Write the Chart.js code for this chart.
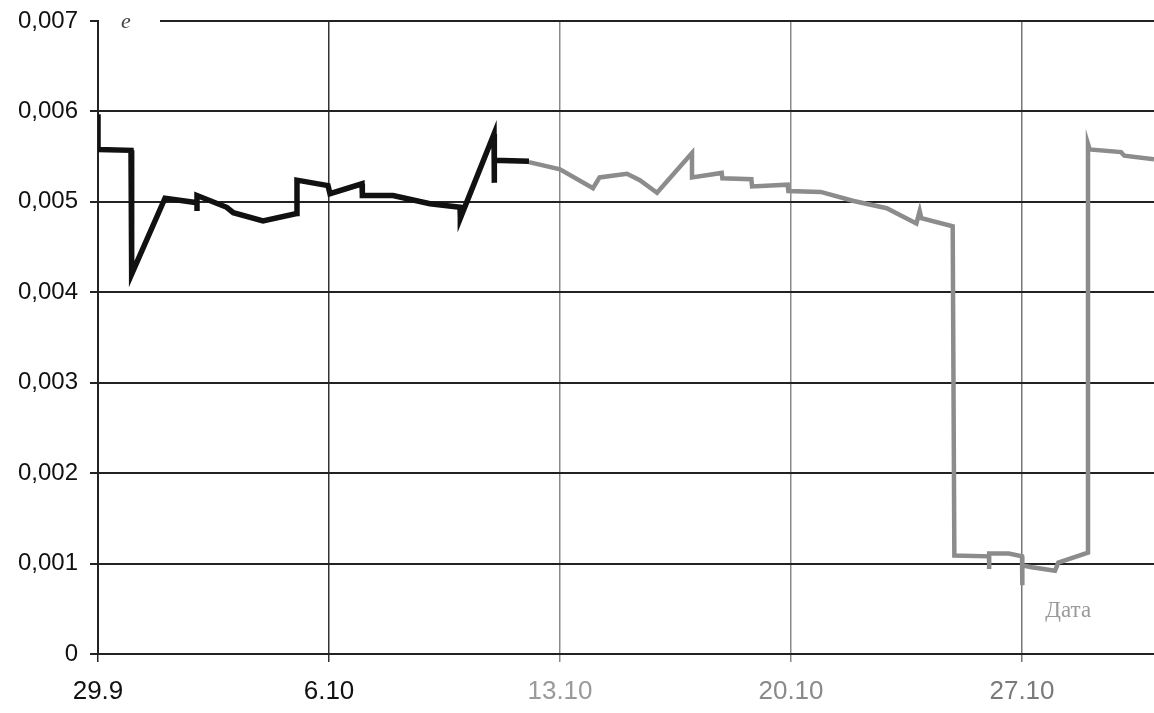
<!DOCTYPE html>
<html>
<head>
<meta charset="utf-8">
<script src="https://cdn.jsdelivr.net/npm/chart.js@4.4.1/dist/chart.umd.min.js"></script>
<style>
  html, body { margin: 0; padding: 0; background: #fff; }
  #wrap { width: 1154px; height: 713px; }
</style>
</head>
<body>
<div id="wrap"><canvas id="chart" width="1154" height="713"></canvas></div>
<script>
// days counted from 29.9
const xTickDays = [0, 7, 14, 21, 28];
const xTickLabels = ['29.9', '6.10', '13.10', '20.10', '27.10'];
const yTickValues = [0, 0.001, 0.002, 0.003, 0.004, 0.005, 0.006, 0.007];

// first part (dark line)
const blackDays = [0, 0, 1.0, 1.02, 2.03, 3.0, 3.0, 3.0, 3.9, 4.1, 5.0, 6.02, 6.03, 6.97, 7.03, 8.0, 8.01, 8.94, 10.06, 10.97, 10.98, 12.0, 12.0, 12.02, 13.06];
const blackValues = [0.00597, 0.00558, 0.00557, 0.00420, 0.00504, 0.00499, 0.00490, 0.00507, 0.00494, 0.00488, 0.00479, 0.00487, 0.00524, 0.00518, 0.00509, 0.00520, 0.00507, 0.00507, 0.00498, 0.00494, 0.00482, 0.00575, 0.00521, 0.00546, 0.00545];

// second part (grey line)
const grayDays = [13.06, 14.0, 15.0, 15.2, 16.03, 16.42, 16.94, 18.0, 18.0, 18.9, 18.92, 19.8, 19.82, 20.9, 20.92, 21.9, 22.9, 23.9, 24.8, 24.9, 24.95, 25.9, 25.95, 27.0, 27.0, 27.01, 27.6, 28.0, 28.0, 28.02, 28.3, 29.0, 29.1, 30.0, 30.0, 30.05, 31.0, 31.1, 32.0];
const grayValues = [0.00544, 0.00536, 0.00515, 0.00527, 0.00531, 0.00524, 0.00510, 0.00554, 0.00527, 0.00532, 0.00526, 0.00525, 0.00517, 0.00519, 0.00512, 0.00511, 0.00501, 0.00493, 0.00476, 0.00490, 0.00482, 0.00473, 0.00109, 0.00108, 0.00094, 0.00111, 0.00111, 0.00108, 0.00076, 0.00098, 0.00096, 0.00092, 0.00101, 0.00112, 0.00564, 0.00558, 0.00555, 0.00551, 0.00547];

const xLabelColors = ['#111', '#111', '#9a9a9a', '#8a8a8a', '#7a7a7a'];
const xGridColors = ['#222', '#333', '#8a8a8a', '#8a8a8a', '#777'];

function toPoints(xs, ys) {
    return xs.map((x, i) => ({ x: x, y: ys[i] }));
}

const labelsPlugin = {
    id: 'labels',
    afterDraw(chart) {
        const ctx = chart.ctx;
        const area = chart.chartArea;
        const xs = chart.scales.x;
        const ys = chart.scales.y;
        ctx.save();
        // blank corner where the axis name sits
        ctx.fillStyle = '#fff';
        ctx.fillRect(area.left + 1, 0, 61, 48);
        ctx.fillStyle = '#444';
        ctx.font = 'italic 22px "Liberation Serif", serif';
        ctx.textAlign = 'center';
        ctx.textBaseline = 'middle';
        ctx.fillText('e', area.left + 28, area.top + 1);
        ctx.fillStyle = '#9a9a9a';
        ctx.font = '23px "Liberation Serif", serif';
        ctx.fillText('Дата', xs.getPixelForValue(29.4), ys.getPixelForValue(0.00048));
        ctx.restore();
    }
};

new Chart(document.getElementById('chart'), {
    type: 'line',
    data: {
        datasets: [{
            data: toPoints(blackDays, blackValues),
            borderColor: '#111',
            borderWidth: 5.5,
            pointRadius: 0,
            tension: 0
        }, {
            data: toPoints(grayDays, grayValues),
            borderColor: '#8c8c8c',
            borderWidth: 4.5,
            pointRadius: 0,
            tension: 0
        }]
    },
    options: {
        responsive: false,
        animation: false,
        layout: { padding: { top: 0, right: 0, bottom: 0, left: 0 } },
        plugins: {
            legend: { display: false },
            tooltip: { enabled: false }
        },
        scales: {
            x: {
                type: 'linear',
                min: 0,
                max: 32,
                afterBuildTicks: scale => {
                    scale.ticks = xTickDays.map(v => ({ value: v }));
                },
                afterFit: scale => {
                    scale.height = 59;
                },
                ticks: {
                    autoSkip: false,
                    maxRotation: 0,
                    padding: 14,
                    font: { family: '"Liberation Sans", Arial, sans-serif', size: 26 },
                    color: ctx => xLabelColors[ctx.index] || '#111',
                    callback: (v, i) => xTickLabels[i]
                },
                grid: {
                    color: ctx => xGridColors[ctx.index] || '#444',
                    lineWidth: 1.5,
                    tickLength: 8
                },
                border: { color: '#222', width: 2 }
            },
            y: {
                min: 0,
                max: 0.007,
                afterBuildTicks: scale => {
                    scale.ticks = yTickValues.map(v => ({ value: v }));
                },
                afterFit: scale => {
                    scale.width = 98;
                },
                ticks: {
                    padding: 12,
                    font: { family: '"Liberation Sans", Arial, sans-serif', size: 24, lineHeight: 0.75 },
                    color: '#111',
                    callback: v => v === 0 ? '0' : v.toFixed(3).replace('.', ',')
                },
                grid: {
                    color: '#222',
                    lineWidth: 2,
                    tickLength: 8
                },
                border: { color: '#222', width: 2 }
            }
        }
    },
    plugins: [labelsPlugin]
});
</script>
</body>
</html>
